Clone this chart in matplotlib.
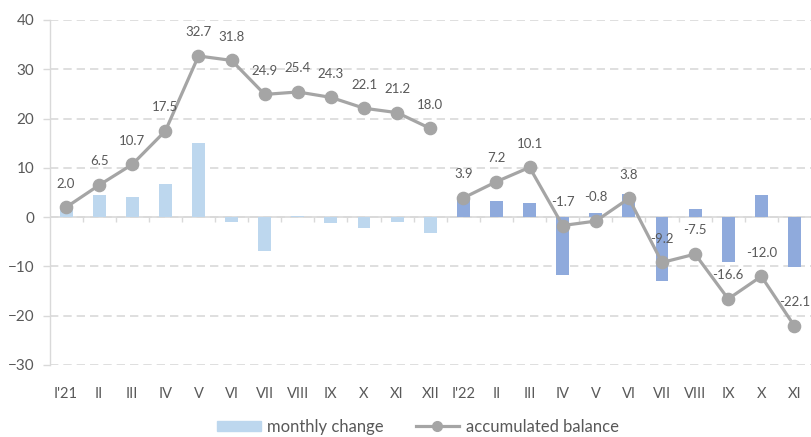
import matplotlib
matplotlib.use("Agg")
import matplotlib.pyplot as plt
from matplotlib.lines import Line2D
from matplotlib.patches import Patch
import numpy as np

plt.rcParams['font.family'] = ['Lato', 'DejaVu Sans']

months = ["I'21", "II", "III", "IV", "V", "VI", "VII", "VIII", "IX", "X", "XI", "XII",
          "I'22", "II", "III", "IV", "V", "VI", "VII", "VIII", "IX", "X", "XI"]
monthly_change = [2.0, 4.5, 4.1, 6.8, 15.1, -0.9, -6.9, 0.3, -1.1, -2.2, -0.9, -3.2,
                  3.9, 3.2, 2.8, -11.8, 0.8, 4.6, -13.0, 1.6, -9.2, 4.5, -10.1]
accumulated = [2.0, 6.5, 10.7, 17.5, 32.7, 31.8, 24.9, 25.4, 24.3, 22.1, 21.2, 18.0,
               3.9, 7.2, 10.1, -1.7, -0.8, 3.8, -9.2, -7.5, -16.6, -12.0, -22.1]
year_of_month = [2021] * 12 + [2022] * 11
bar_colors = {2021: "#BDD7EE", 2022: "#8FAADC"}
line_color = "#A5A5A5"
text_color = "#595959"
grid_color = "#D9D9D9"

fig = plt.figure(figsize=(8.11, 4.37), dpi=100)
ax = fig.add_axes([49.5 / 811, 1 - 365 / 437, (811 - 49.5) / 811, (365 - 20) / 437])

x = np.arange(len(months))
colors = [bar_colors[y] for y in year_of_month]
ax.bar(x, monthly_change, width=0.39, color=colors, zorder=2)

# line broken between years
idx21 = [i for i, y in enumerate(year_of_month) if y == 2021]
idx22 = [i for i, y in enumerate(year_of_month) if y == 2022]
for idx in (idx21, idx22):
    ax.plot(x[idx], [accumulated[i] for i in idx], color=line_color, lw=2.3,
            marker='o', markersize=8.8, markerfacecolor=line_color,
            markeredgecolor=line_color, zorder=3)

for xi, v in zip(x, accumulated):
    ax.annotate(f"{v:.1f}", (xi, v), xytext=(0, 17), textcoords='offset points',
                ha='center', va='center', fontsize=9.5, color=text_color, zorder=4)

ax.set_xlim(-0.5, len(months) - 0.5)
ax.set_ylim(-30, 40)
ax.set_yticks(np.arange(-30, 41, 10))
ax.yaxis.grid(True, color=grid_color, linestyle=(0, (5, 3)), linewidth=1.2, zorder=0)
ax.set_axisbelow(True)

# zero axis line with boundary ticks
ax.axhline(0, color=grid_color, lw=1.2, zorder=1)
bounds = x[1:] - 0.5
ax.vlines(bounds, -1.0, 0, color=grid_color, lw=1.0, zorder=1)

ax.set_xticks(x)
ax.set_xticklabels(months)
ax.tick_params(axis='x', length=0, pad=16, labelsize=10.5, labelcolor=text_color)
ax.tick_params(axis='y', length=5, color=grid_color, width=1.0, labelsize=11,
               labelcolor=text_color, pad=6)

for s in ['top', 'right', 'bottom']:
    ax.spines[s].set_visible(False)
ax.spines['left'].set_color(grid_color)
ax.spines['left'].set_linewidth(1.0)

handles = [Patch(color=bar_colors[2021], label='monthly change'),
           Line2D([], [], color=line_color, lw=2.3, marker='o', markersize=7,
                  label='accumulated balance')]
fig.legend(handles=handles, loc='center', bbox_to_anchor=(418 / 811, 1 - 427 / 437),
           ncol=2, frameon=False, fontsize=12, labelcolor=text_color,
           handlelength=2.6, handleheight=0.6, columnspacing=1.9, handletextpad=0.4)

fig.savefig("out.png", dpi=100)
